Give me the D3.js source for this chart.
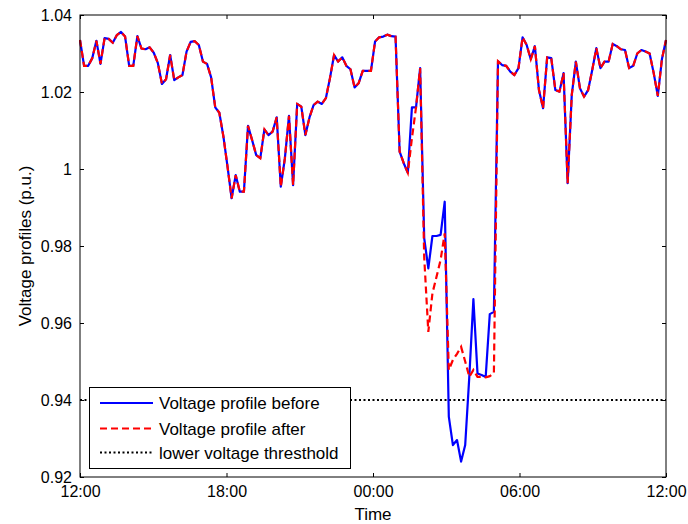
<!DOCTYPE html>
<html><head><meta charset="utf-8">
<script src="https://cdn.jsdelivr.net/npm/d3@7"></script>
<style>body{margin:0;background:#fff} text{font-family:"Liberation Sans",Arial,sans-serif;fill:#000}</style>
</head><body><svg id="c" width="688" height="524"></svg>
<script>
// Voltage (p.u.) sampled over 24 h starting at 12:00
const voltageBefore = [
1.0335,1.0268,1.0268,1.0288,1.0333,1.0273,1.0340,1.0338,1.0328,1.0348,
1.0356,1.0344,1.0268,1.0268,1.0345,1.0313,1.0311,1.0316,1.0302,1.0275,
1.0221,1.0233,1.0296,1.0231,1.0238,1.0244,1.0305,1.0330,1.0332,1.0322,
1.0279,1.0273,1.0238,1.0160,1.0146,1.0084,1.0006,0.9924,0.9984,0.9941,
0.9941,1.0112,1.0075,1.0036,1.0028,1.0103,1.0088,1.0097,1.0134,0.9954,
1.0028,1.0138,0.9958,1.0169,1.0162,1.0088,1.0134,1.0166,1.0175,1.0169,
1.0184,1.0236,1.0296,1.0279,1.0290,1.0268,1.0259,1.0212,1.0223,1.0255,
1.0255,1.0255,1.0331,1.0342,1.0344,1.0349,1.0345,1.0344,1.0045,1.0015,
0.9990,1.0160,1.0160,1.0262,0.9820,0.9742,0.9826,0.9826,0.9829,0.9915,
0.9357,0.9283,0.9296,0.9240,0.9283,0.9460,0.9662,0.9469,0.9465,0.9460,
0.9623,0.9629,1.0280,1.0270,1.0268,1.0253,1.0244,1.0262,1.0342,1.0322,
1.0285,1.0319,1.0205,1.0158,1.0290,1.0288,1.0205,1.0201,1.0249,0.9963,
1.0192,1.0279,1.0210,1.0188,1.0205,1.0257,1.0314,1.0262,1.0279,1.0279,
1.0325,1.0319,1.0311,1.0309,1.0262,1.0268,1.0300,1.0309,1.0305,1.0300,
1.0249,1.0190,1.0285,1.0335];
const voltageAfter = [
1.0335,1.0268,1.0268,1.0288,1.0333,1.0273,1.0340,1.0338,1.0328,1.0348,
1.0356,1.0344,1.0268,1.0268,1.0345,1.0313,1.0311,1.0316,1.0302,1.0275,
1.0221,1.0233,1.0296,1.0231,1.0238,1.0244,1.0305,1.0330,1.0332,1.0322,
1.0279,1.0273,1.0238,1.0160,1.0146,1.0084,1.0006,0.9924,0.9984,0.9941,
0.9941,1.0112,1.0075,1.0036,1.0028,1.0103,1.0088,1.0097,1.0134,0.9954,
1.0028,1.0138,0.9958,1.0169,1.0162,1.0088,1.0134,1.0166,1.0175,1.0169,
1.0184,1.0236,1.0296,1.0279,1.0290,1.0268,1.0259,1.0212,1.0223,1.0255,
1.0255,1.0255,1.0331,1.0342,1.0344,1.0349,1.0345,1.0344,1.0045,1.0015,
0.9990,1.0080,1.0160,1.0262,0.9770,0.9577,0.9677,0.9720,0.9764,0.9833,
0.9478,0.9504,0.9520,0.9538,0.9500,0.9460,0.9478,0.9460,0.9460,0.9459,
0.9462,0.9469,1.0280,1.0270,1.0268,1.0253,1.0244,1.0262,1.0342,1.0322,
1.0285,1.0319,1.0205,1.0158,1.0290,1.0288,1.0205,1.0201,1.0249,0.9963,
1.0192,1.0279,1.0210,1.0188,1.0205,1.0257,1.0314,1.0262,1.0279,1.0279,
1.0325,1.0319,1.0311,1.0309,1.0262,1.0268,1.0300,1.0309,1.0305,1.0300,
1.0249,1.0190,1.0285,1.0335];
const lowerThreshold = 0.94;
const xTickHours = [0, 6, 12, 18, 24];
const xTickLabels = ["12:00", "18:00", "00:00", "06:00", "12:00"];
const yTicks = [0.92, 0.94, 0.96, 0.98, 1.00, 1.02, 1.04];
const legendLabels = ["Voltage profile before", "Voltage profile after", "lower voltage thresthold"];
const xLabel = "Time";
const yLabel = "Voltage profiles (p.u.)";

const L = 80, R = 666, T = 15, B = 477;
const svg = d3.select("#c");
const n = voltageBefore.length;
const hours = voltageBefore.map((_, i) => i * 24 / (n - 1));
const x = d3.scaleLinear().domain([0, 24]).range([L, R]);
const y = d3.scaleLinear().domain([0.92, 1.04]).range([B, T]);

const line = d3.line().x((d, i) => x(hours[i])).y(d => y(d));

// threshold
svg.append("line").attr("x1", x(0)).attr("x2", x(24)).attr("y1", y(lowerThreshold)).attr("y2", y(lowerThreshold))
  .attr("stroke", "#000").attr("stroke-width", 2).attr("stroke-dasharray", "2,2.5");

svg.append("path").datum(voltageBefore).attr("d", line).attr("fill", "none")
  .attr("stroke", "#0000ff").attr("stroke-width", 2.2).attr("stroke-linejoin", "round");
svg.append("path").datum(voltageAfter).attr("d", line).attr("fill", "none")
  .attr("stroke", "#ff0000").attr("stroke-width", 2.2).attr("stroke-dasharray", "7,4");

// axes (inward ticks, box)
const fmt = v => String(+v.toFixed(2));
const ax = g => g.selectAll(".domain").remove();
svg.append("g").attr("transform", `translate(0,${B})`)
  .call(d3.axisBottom(x).tickValues(xTickHours).tickFormat((d, i) => xTickLabels[i]).tickSizeInner(-4).tickSizeOuter(0).tickPadding(9))
  .call(ax).call(g => g.selectAll("text").attr("font-size", 16).attr("font-family", "Liberation Sans"));
svg.append("g").attr("transform", `translate(0,${T})`)
  .call(d3.axisTop(x).tickValues(xTickHours).tickFormat("").tickSizeInner(-4).tickSizeOuter(0)).call(ax);
svg.append("g").attr("transform", `translate(${L},0)`)
  .call(d3.axisLeft(y).tickValues(yTicks).tickFormat(fmt).tickSizeInner(-4).tickSizeOuter(0).tickPadding(8))
  .call(ax).call(g => g.selectAll("text").attr("font-size", 16).attr("font-family", "Liberation Sans"));
svg.append("g").attr("transform", `translate(${R},0)`)
  .call(d3.axisRight(y).tickValues(yTicks).tickFormat("").tickSizeInner(-4).tickSizeOuter(0)).call(ax);
svg.selectAll(".tick line").attr("stroke", "#000");
svg.append("rect").attr("x", L).attr("y", T).attr("width", R - L).attr("height", B - T)
  .attr("fill", "none").attr("stroke", "#000").attr("stroke-width", 1);

// labels
svg.append("text").attr("x", (L + R) / 2).attr("y", 520).attr("text-anchor", "middle").attr("font-size", 17).text(xLabel);
svg.append("text").attr("transform", `translate(31,${(T + B) / 2}) rotate(-90)`).attr("text-anchor", "middle").attr("font-size", 17).text(yLabel);

// legend
const lg = svg.append("g");
lg.append("rect").attr("x", 89.5).attr("y", 387.5).attr("width", 261).attr("height", 81)
  .attr("fill", "#fff").attr("stroke", "#000").attr("stroke-width", 1);
const styles = [
  {c: "#0000ff", d: null}, {c: "#ff0000", d: "7,4"}, {c: "#000", d: "2,2.5"}
];
const rowsY = [403, 428.5, 452.5];
legendLabels.forEach((lab, i) => {
  lg.append("line").attr("x1", 100).attr("x2", 153).attr("y1", rowsY[i]).attr("y2", rowsY[i])
    .attr("stroke", styles[i].c).attr("stroke-width", 2).attr("stroke-dasharray", styles[i].d);
  lg.append("text").attr("x", 159).attr("y", rowsY[i] + 6).attr("font-size", 17).text(lab);
});
</script></body></html>
